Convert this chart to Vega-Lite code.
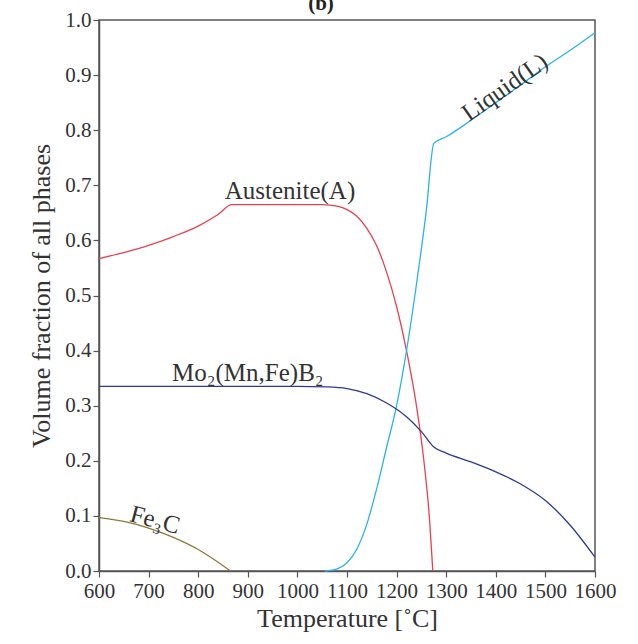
{
  "$schema": "https://vega.github.io/schema/vega-lite/v6.json",
  "autosize": "none",
  "width": 496,
  "height": 551,
  "padding": {"left": 99, "top": 20, "right": 43, "bottom": 73},
  "background": "white",
  "title": {"text": "(b)", "fontSize": 21, "fontWeight": "bold", "font": "Liberation Serif", "offset": -5, "dx": -26, "color": "#222"},
  "config": {
    "view": {"stroke": "#555", "strokeWidth": 1.5},
    "axis": {"labelFont": "Liberation Serif", "titleFont": "Liberation Serif", "labelFontSize": 21, "titleFontSize": 26, "labelColor": "#333", "titleColor": "#333", "titleFontWeight": "normal", "domainColor": "#555", "tickColor": "#555", "domainWidth": 1.5, "tickWidth": 1.2, "tickSize": 6, "grid": false, "labelOverlap": false, "labelFlush": false}
  },
  "datasets": {
    "lines": [
      {"phase": "Austenite", "T": 600, "v": 0.567},
      {"phase": "Austenite", "T": 650, "v": 0.578},
      {"phase": "Austenite", "T": 700, "v": 0.591},
      {"phase": "Austenite", "T": 750, "v": 0.607},
      {"phase": "Austenite", "T": 800, "v": 0.626},
      {"phase": "Austenite", "T": 840, "v": 0.647},
      {"phase": "Austenite", "T": 868, "v": 0.665},
      {"phase": "Austenite", "T": 950, "v": 0.665},
      {"phase": "Austenite", "T": 1050, "v": 0.665},
      {"phase": "Austenite", "T": 1080, "v": 0.662},
      {"phase": "Austenite", "T": 1100, "v": 0.656},
      {"phase": "Austenite", "T": 1120, "v": 0.644},
      {"phase": "Austenite", "T": 1140, "v": 0.622},
      {"phase": "Austenite", "T": 1160, "v": 0.59},
      {"phase": "Austenite", "T": 1180, "v": 0.542},
      {"phase": "Austenite", "T": 1200, "v": 0.48},
      {"phase": "Austenite", "T": 1220, "v": 0.4},
      {"phase": "Austenite", "T": 1240, "v": 0.3},
      {"phase": "Austenite", "T": 1255, "v": 0.2},
      {"phase": "Austenite", "T": 1265, "v": 0.11},
      {"phase": "Austenite", "T": 1273, "v": 0.0},
      {"phase": "Liquid", "T": 1055, "v": 0.0},
      {"phase": "Liquid", "T": 1080, "v": 0.004},
      {"phase": "Liquid", "T": 1100, "v": 0.015},
      {"phase": "Liquid", "T": 1120, "v": 0.04},
      {"phase": "Liquid", "T": 1140, "v": 0.085},
      {"phase": "Liquid", "T": 1160, "v": 0.15},
      {"phase": "Liquid", "T": 1180, "v": 0.225},
      {"phase": "Liquid", "T": 1200, "v": 0.3},
      {"phase": "Liquid", "T": 1220, "v": 0.4},
      {"phase": "Liquid", "T": 1240, "v": 0.52},
      {"phase": "Liquid", "T": 1260, "v": 0.655},
      {"phase": "Liquid", "T": 1275, "v": 0.776},
      {"phase": "Liquid", "T": 1300, "v": 0.788},
      {"phase": "Liquid", "T": 1350, "v": 0.818},
      {"phase": "Liquid", "T": 1400, "v": 0.85},
      {"phase": "Liquid", "T": 1450, "v": 0.882},
      {"phase": "Liquid", "T": 1500, "v": 0.915},
      {"phase": "Liquid", "T": 1550, "v": 0.945},
      {"phase": "Liquid", "T": 1600, "v": 0.977},
      {"phase": "Boride", "T": 600, "v": 0.335},
      {"phase": "Boride", "T": 800, "v": 0.335},
      {"phase": "Boride", "T": 1000, "v": 0.335},
      {"phase": "Boride", "T": 1060, "v": 0.334},
      {"phase": "Boride", "T": 1100, "v": 0.331},
      {"phase": "Boride", "T": 1140, "v": 0.322},
      {"phase": "Boride", "T": 1180, "v": 0.305},
      {"phase": "Boride", "T": 1220, "v": 0.28},
      {"phase": "Boride", "T": 1250, "v": 0.253},
      {"phase": "Boride", "T": 1275, "v": 0.225},
      {"phase": "Boride", "T": 1300, "v": 0.214},
      {"phase": "Boride", "T": 1350, "v": 0.198},
      {"phase": "Boride", "T": 1400, "v": 0.18},
      {"phase": "Boride", "T": 1450, "v": 0.158},
      {"phase": "Boride", "T": 1500, "v": 0.128},
      {"phase": "Boride", "T": 1550, "v": 0.083},
      {"phase": "Boride", "T": 1600, "v": 0.025},
      {"phase": "Fe3C", "T": 600, "v": 0.097},
      {"phase": "Fe3C", "T": 650, "v": 0.09},
      {"phase": "Fe3C", "T": 700, "v": 0.078},
      {"phase": "Fe3C", "T": 750, "v": 0.061},
      {"phase": "Fe3C", "T": 800, "v": 0.039},
      {"phase": "Fe3C", "T": 840, "v": 0.016},
      {"phase": "Fe3C", "T": 865, "v": 0.0}
    ]
  },
  "layer": [
    {
      "data": {"name": "lines"},
      "mark": {"type": "line", "strokeWidth": 1.3, "interpolate": "monotone"},
      "encoding": {
        "x": {"field": "T", "type": "quantitative", "scale": {"domain": [600, 1600], "nice": false}, "axis": {"values": [600, 700, 800, 900, 1000, 1100, 1200, 1300, 1400, 1500, 1600], "format": "d", "title": "Temperature [˚C]", "titlePadding": 4, "labelPadding": 3}},
        "y": {"field": "v", "type": "quantitative", "scale": {"domain": [0, 1], "nice": false}, "axis": {"values": [0, 0.1, 0.2, 0.3, 0.4, 0.5, 0.6, 0.7, 0.8, 0.9, 1.0], "format": ".1f", "title": "Volume fraction of all phases", "titlePadding": 10}},
        "color": {"field": "phase", "type": "nominal", "scale": {"domain": ["Austenite", "Liquid", "Boride", "Fe3C"], "range": ["#e8404e", "#2ab4e6", "#2d3a8e", "#8c7a3a"]}, "legend": null},
        "order": {"field": "T", "type": "quantitative"}
      }
    },
    {
      "data": {"values": [{"label": "Austenite(A)", "T": 985, "v": 0.69}, {"label": "Mo₂(Mn,Fe)B₂", "T": 900, "v": 0.36}]},
      "mark": {"type": "text", "font": "Liberation Serif", "fontSize": 25, "color": "#333"},
      "encoding": {"x": {"field": "T", "type": "quantitative"}, "y": {"field": "v", "type": "quantitative"}, "text": {"field": "label"}}
    },
    {
      "data": {"values": [{"label": "Fe₃C", "T": 713, "v": 0.093}]},
      "mark": {"type": "text", "font": "Liberation Serif", "fontSize": 25, "color": "#333", "angle": 15},
      "encoding": {"x": {"field": "T", "type": "quantitative"}, "y": {"field": "v", "type": "quantitative"}, "text": {"field": "label"}}
    },
    {
      "data": {"values": [{"label": "Liquid(L)", "T": 1418, "v": 0.878}]},
      "mark": {"type": "text", "font": "Liberation Serif", "fontSize": 25, "color": "#333", "angle": -35},
      "encoding": {"x": {"field": "T", "type": "quantitative"}, "y": {"field": "v", "type": "quantitative"}, "text": {"field": "label"}}
    }
  ]
}
